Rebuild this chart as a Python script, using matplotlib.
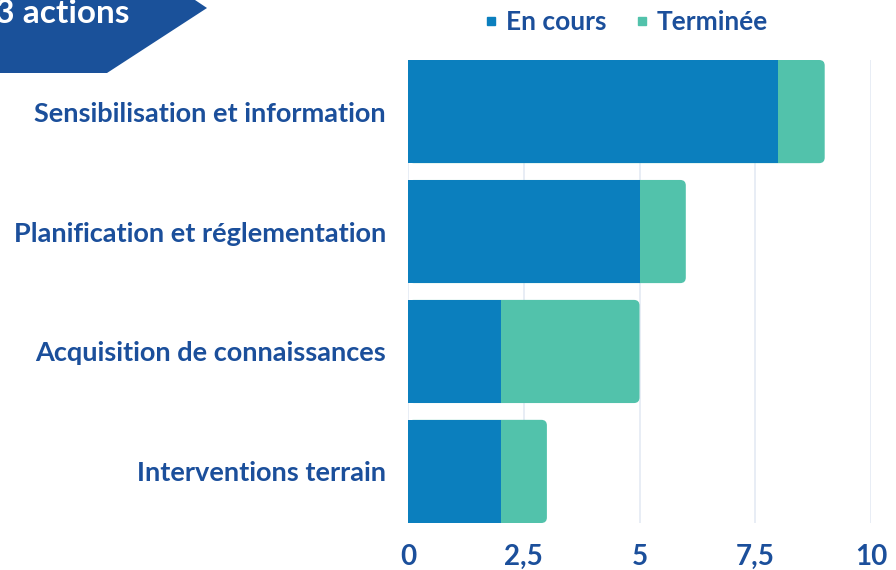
import matplotlib.pyplot as plt
from matplotlib.patches import FancyBboxPatch, Polygon
from matplotlib.lines import Line2D

categories = ['Sensibilisation et information', 'Planification et réglementation',
              'Acquisition de connaissances', 'Interventions terrain']
en_cours = [8, 5, 2, 2]
terminee = [1, 1, 3, 1]
xticks = [0, 2.5, 5, 7.5, 10]
xtick_labels = ['0', '2,5', '5', '7,5', '10']
banner_text = '23 actions'

BLUE = '#0b7fbe'
TEAL = '#52c2ab'
NAVY = '#1b4f9b'
GRID = '#e4eaf3'

plt.rcParams['font.family'] = ['Lato', 'DejaVu Sans']

fig = plt.figure(figsize=(8.96, 5.70), dpi=100)
ax = fig.add_axes([408 / 896, 47 / 570, 463 / 896, 463 / 570])

bar_h = 0.86
ypos = list(range(len(categories)))

# full bar with rounded end, blue part drawn on top of it
for y, a, b in zip(ypos, en_cours, terminee):
    total = a + b
    patch = FancyBboxPatch((0, y - bar_h / 2), total, bar_h,
                           boxstyle='round,pad=0,rounding_size=0.12',
                           mutation_aspect=46.3 / 120,
                           facecolor=TEAL, edgecolor='none', zorder=2)
    ax.add_patch(patch)
ax.barh(ypos, en_cours, height=bar_h, color=BLUE, zorder=3)

ax.set_xlim(0, 10)
ax.set_ylim(3 + bar_h / 2, -bar_h / 2)
ax.set_xticks(xticks)
ax.set_xticklabels(xtick_labels)
ax.set_yticks(ypos)
ax.set_yticklabels(categories)
ax.grid(axis='x', color=GRID, linewidth=1.2, zorder=0)
for s in ax.spines.values():
    s.set_visible(False)
ax.tick_params(axis='both', length=0, colors=NAVY)
ax.tick_params(axis='x', pad=15, labelsize=20)
ax.tick_params(axis='y', pad=16, labelsize=19.5)
for lab in ax.get_xticklabels() + ax.get_yticklabels():
    lab.set_fontweight('bold')
    lab.set_color(NAVY)

# legend
handles = [Line2D([], [], marker='s', linestyle='none', markersize=6, color=BLUE),
           Line2D([], [], marker='s', linestyle='none', markersize=6, color=TEAL)]
leg = fig.legend(handles, ['En cours', 'Terminée'], loc='center',
                 bbox_to_anchor=(626 / 896, 1 - 22 / 570), ncol=2, frameon=False,
                 handlelength=0.5, handletextpad=0.3, columnspacing=1.1,
                 prop={'size': 19, 'weight': 'bold'})
for t in leg.get_texts():
    t.set_color(NAVY)

# banner top left
pts = [(0, 0), (195, 0), (207, 8), (107, 73), (0, 73)]
banner = Polygon([(x / 896, 1 - y / 570) for x, y in pts], closed=True,
                 transform=fig.transFigure, facecolor='#1a519a', edgecolor='none')
fig.patches.append(banner)
fig.text(129 / 896, 1 - 23 / 570, banner_text, ha='right', va='baseline',
         color='white', fontsize=24, fontweight='bold')

fig.savefig('out.png', dpi=100)
